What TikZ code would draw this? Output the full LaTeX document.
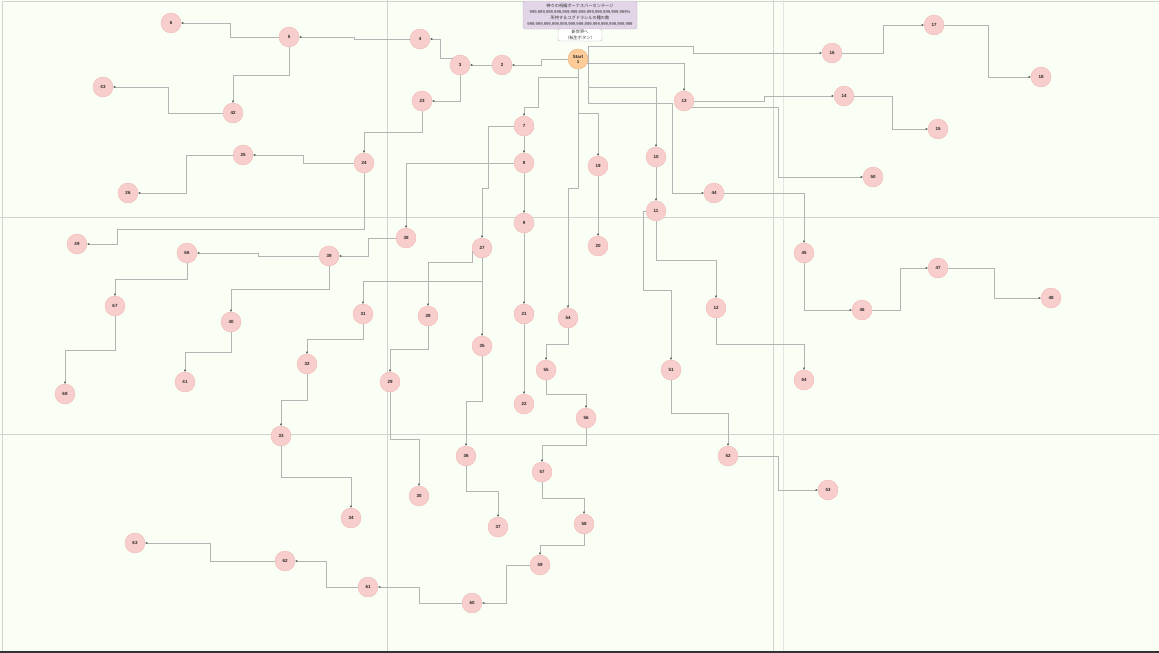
\documentclass[tikz,border=0pt]{standalone}
\usepackage{fontspec}
\setmainfont{Liberation Sans}
\newfontfamily\jpfont{Noto Sans CJK JP}
\usepackage{xcolor}
\usepackage{tikz}
\usetikzlibrary{arrows.meta}
\definecolor{pgbg}{HTML}{FAFFF5}
\definecolor{pggrid}{HTML}{D2D2D2}
\definecolor{ndfill}{HTML}{F8CECC}
\definecolor{nddraw}{HTML}{EFB9B6}
\definecolor{stfill}{HTML}{FFCC99}
\definecolor{stdraw}{HTML}{E9B07A}
\definecolor{hdrfill}{HTML}{E1D5E7}
\definecolor{hdrdraw}{HTML}{C4B3CF}
\definecolor{edgeink}{HTML}{B4B4B4}

\begin{document}
\begin{tikzpicture}[
  x=1pt, y=-1pt,
  nd/.style={circle, fill=ndfill, draw=nddraw, line width=0.4pt, minimum size=20pt, inner sep=0pt, font=\fontsize{4.5}{5}\selectfont\bfseries, text=black!85},
  startnd/.style={nd, fill=stfill, draw=stdraw, align=center},
  hdrbox/.style={draw=hdrdraw, fill=hdrfill, rounded corners=2.5pt, align=center, minimum width=114pt, minimum height=28pt, inner sep=0pt, font=\fontsize{4.2}{6.2}\selectfont, text=black!80},
  btnbox/.style={draw=black!25, fill=white, rounded corners=1.5pt, align=center, minimum width=44pt, minimum height=12pt, inner sep=0pt, font=\fontsize{4.2}{5.4}\selectfont, text=black!80},
  arr/.style={-{Stealth[length=2.4pt, width=2pt, color=black!75]}, edgeink, line width=0.55pt},
  gridln/.style={pggrid, line width=0.7pt}
]
  \useasboundingbox (0,0) rectangle (1159,653);
  \fill[pgbg] (0,0) rectangle (1159,653);
  \draw[gridln] (2,1.5) -- (1159,1.5);
  \draw[gridln] (2.5,1.5) -- (2.5,651);
  \draw[gridln] (0,217) -- (1159,217);
  \draw[gridln] (0,434) -- (1159,434);
  \draw[gridln] (387,0) -- (387,651);
  \draw[gridln] (773,0) -- (773,651);
  \draw[pggrid!60, line width=0.6pt] (783,0) -- (783,651);
  \fill[black!80] (0,651) rectangle (1159,653);

  \node[hdrbox] (header) at (580,15) {{\jpfont 神々の祝福ボーナスパーセンテージ}\\ 999,999,999,999,999,999,999,999,999,999,999,999\%\\ {\jpfont 所持するユグドラシルの種の数}\\ 999,999,999,999,999,999,999,999,999,999,999,999,999};
  \node[btnbox] (rebirth) at (580,35) {{\jpfont 新世界へ}\\ {\jpfont （転生ボタン）}};

  \node[startnd] (n1) at (578,59) {Start\\1};
  \node[nd] (n2) at (502,65) {2};
  \node[nd] (n3) at (460,65) {3};
  \node[nd] (n4) at (420,39) {4};
  \node[nd] (n5) at (289,37) {5};
  \node[nd] (n6) at (171,23) {6};
  \node[nd] (n7) at (524,126) {7};
  \node[nd] (n8) at (524,163) {8};
  \node[nd] (n9) at (524,223) {9};
  \node[nd] (n10) at (656,157) {10};
  \node[nd] (n11) at (656,211) {11};
  \node[nd] (n12) at (716,308) {12};
  \node[nd] (n13) at (684,101) {13};
  \node[nd] (n14) at (844,96) {14};
  \node[nd] (n15) at (938,129) {15};
  \node[nd] (n16) at (832,53) {16};
  \node[nd] (n17) at (934,25) {17};
  \node[nd] (n18) at (1041,77) {18};
  \node[nd] (n19) at (598,166) {19};
  \node[nd] (n20) at (598,246) {20};
  \node[nd] (n21) at (524,314) {21};
  \node[nd] (n22) at (524,404) {22};
  \node[nd] (n23) at (422,101) {23};
  \node[nd] (n24) at (364,163) {24};
  \node[nd] (n25) at (243,155) {25};
  \node[nd] (n26) at (128,193) {26};
  \node[nd] (n27) at (482,248) {27};
  \node[nd] (n28) at (428,316) {28};
  \node[nd] (n29) at (390,382) {29};
  \node[nd] (n30) at (419,496) {30};
  \node[nd] (n31) at (363,314) {31};
  \node[nd] (n32) at (307,364) {32};
  \node[nd] (n33) at (281,436) {33};
  \node[nd] (n34) at (351,518) {34};
  \node[nd] (n35) at (482,346) {35};
  \node[nd] (n36) at (466,456) {36};
  \node[nd] (n37) at (498,527) {37};
  \node[nd] (n38) at (406,238) {38};
  \node[nd] (n39) at (329,256) {39};
  \node[nd] (n40) at (231,322) {40};
  \node[nd] (n41) at (185,382) {41};
  \node[nd] (n42) at (233,113) {42};
  \node[nd] (n43) at (103,87) {43};
  \node[nd] (n44) at (714,193) {44};
  \node[nd] (n45) at (804,253) {45};
  \node[nd] (n46) at (862,310) {46};
  \node[nd] (n47) at (938,268) {47};
  \node[nd] (n48) at (1051,298) {48};
  \node[nd] (n49) at (77,244) {49};
  \node[nd] (n50) at (873,177) {50};
  \node[nd] (n51) at (671,370) {51};
  \node[nd] (n52) at (728,456) {52};
  \node[nd] (n53) at (828,490) {53};
  \node[nd] (n54) at (568,318) {54};
  \node[nd] (n55) at (546,370) {55};
  \node[nd] (n56) at (586,418) {56};
  \node[nd] (n57) at (542,472) {57};
  \node[nd] (n58) at (584,524) {58};
  \node[nd] (n59) at (540,565) {59};
  \node[nd] (n60) at (472,603) {60};
  \node[nd] (n61) at (368,587) {61};
  \node[nd] (n62) at (285,561) {62};
  \node[nd] (n63) at (135,543) {63};
  \node[nd] (n64) at (804,380) {64};
  \node[nd] (n66) at (187,253) {66};
  \node[nd] (n67) at (115,306) {67};
  \node[nd] (n68) at (65,394) {68};

  % branches leaving Start
  \draw[arr] (n1.west) -| (541,65) -- (n2.east);
  \draw[arr] (n1.south) |- (538,77) |- (524,107) -- (n7.north);
  \draw[arr] (n1.south) |- (598,113) -- (n19.north);
  \draw[arr] (n1.south) |- (568,188) -- (n54.north);
  \draw[arr] (n1.east) |- (656,87) -- (n10.north);
  \draw[arr] (n1.east) |- (672,103) |- (n44.west);
  \draw[arr] (n1.east) |- (693,46) |- (n16.west);
  \draw[arr] (n1.-25) -| (n13.north);

  % left tree
  \draw[arr] (n2) -- (n3);
  \draw[arr] (n3.135) -| (440,39) -- (n4.east);
  \draw[arr] (n4.west) -| (354,37) -- (n5.east);
  \draw[arr] (n5.west) -| (230,23) -- (n6.east);
  \draw[arr] (n5.south) |- (233,75) -- (n42.north);
  \draw[arr] (n42.west) -| (168,87) -- (n43.east);
  \draw[arr] (n3.south) |- (n23.east);
  \draw[arr] (n23.south) |- (364,132) -- (n24.north);
  \draw[arr] (n24.west) -| (303,155) -- (n25.east);
  \draw[arr] (n25.west) -| (186,193) -- (n26.east);
  \draw[arr] (n24.south) |- (117,229) |- (n49.east);

  % centre column
  \draw[arr] (n7) -- (n8);
  \draw[arr] (n8) -- (n9);
  \draw[arr] (n9) -- (n21);
  \draw[arr] (n21) -- (n22);
  \draw[arr] (n19) -- (n20);
  \draw[arr] (n7.west) -| (488,188) -| (n27.north);
  \draw[arr] (n8.west) -| (n38.north);
  \draw[arr] (n38.west) -| (368,256) -- (n39.east);
  \draw[arr] (n39.west) -| (258,253) -- (n66.east);
  \draw[arr] (n66.south) |- (115,279) -- (n67.north);
  \draw[arr] (n67.south) |- (65,350) -- (n68.north);
  \draw[arr] (n39.south) |- (231,289) -- (n40.north);
  \draw[arr] (n40.south) |- (185,352) -- (n41.north);
  \draw[arr] (n27.south) |- (363,281) -- (n31.north);
  \draw[arr] (n27) -- (n35);
  \draw[arr] (n27.200) |- (428,262) -- (n28.north);
  \draw[arr] (n31.south) |- (307,339) -- (n32.north);
  \draw[arr] (n32.south) |- (281,400) -- (n33.north);
  \draw[arr] (n33.south) |- (351,477) -- (n34.north);
  \draw[arr] (n28.south) |- (390,349) -- (n29.north);
  \draw[arr] (n29.south) |- (419,439) -- (n30.north);
  \draw[arr] (n35.south) |- (466,401) -- (n36.north);
  \draw[arr] (n36.south) |- (498,491) -- (n37.north);
  \draw[arr] (n54.south) |- (546,344) -- (n55.north);
  \draw[arr] (n55.south) |- (586,394) -- (n56.north);
  \draw[arr] (n56.south) |- (542,445) -- (n57.north);
  \draw[arr] (n57.south) |- (584,498) -- (n58.north);
  \draw[arr] (n58.south) |- (540,545) -- (n59.north);
  \draw[arr] (n59.west) -| (506,603) -- (n60.east);
  \draw[arr] (n60.west) -| (419,587) -- (n61.east);
  \draw[arr] (n61.west) -| (326,561) -- (n62.east);
  \draw[arr] (n62.west) -| (210,543) -- (n63.east);

  % right side
  \draw[arr] (n10) -- (n11);
  \draw[arr] (n11.south) |- (716,260) -- (n12.north);
  \draw[arr] (n11.west) -| (643,290) -| (n51.north);
  \draw[arr] (n12.south) |- (804,344) -- (n64.north);
  \draw[arr] (n51.south) |- (728,413) -- (n52.north);
  \draw[arr] (n52.east) -| (778,490) -- (n53.west);
  \draw[arr] (n13.east) -| (764,96) -- (n14.west);
  \draw[arr] (n13.-40) -| (778,177) -- (n50.west);
  \draw[arr] (n14.east) -| (892,129) -- (n15.west);
  \draw[arr] (n16.east) -| (883,25) -- (n17.west);
  \draw[arr] (n17.east) -| (988,77) -- (n18.west);
  \draw[arr] (n44.east) -| (n45.north);
  \draw[arr] (n45.south) |- (n46.west);
  \draw[arr] (n46.east) -| (900,268) -- (n47.west);
  \draw[arr] (n47.east) -| (994,298) -- (n48.west);
\end{tikzpicture}
\end{document}
